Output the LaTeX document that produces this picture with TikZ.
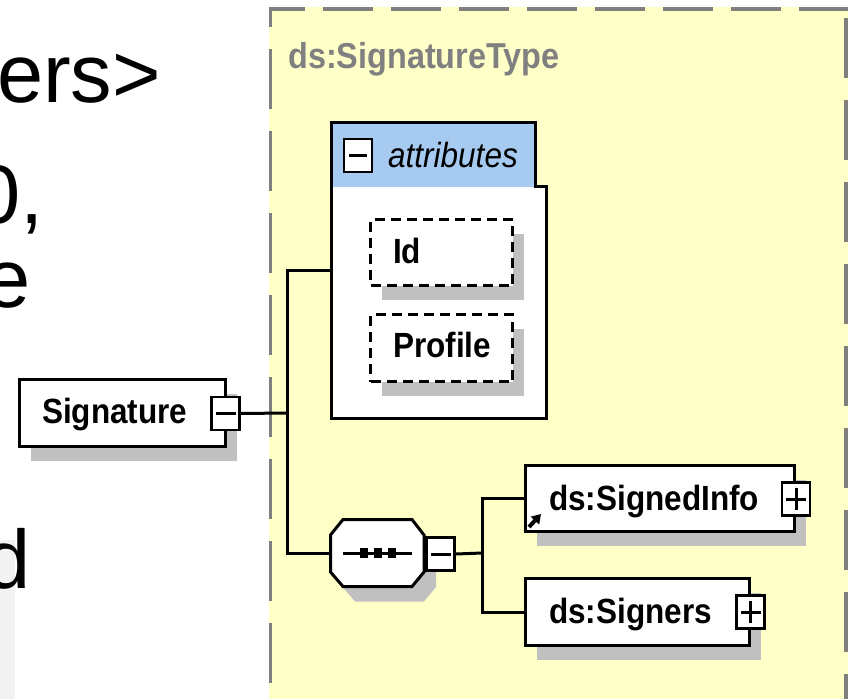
\documentclass[tikz,border=0pt]{standalone}
\usepackage{fontspec}
\setmainfont{Liberation Sans}
\newfontfamily\lblfont[FakeStretch=0.9]{Liberation Sans}
\usetikzlibrary{arrows.meta,calc,shadows}
\definecolor{yel}{HTML}{FFFFC8}
\definecolor{bordergray}{HTML}{808080}
\definecolor{shadowgray}{HTML}{C0C0C0}
\definecolor{hdrblue}{HTML}{A6CAF0}
\definecolor{lightbg}{HTML}{F2F2F2}
\newcommand\octpath{(343,519.5) -- (412,519.5) -- (424,535) -- (424,572) -- (412,586.5) -- (343,586.5) -- (330.5,572) -- (330.5,535) -- cycle}
\begin{document}
\begin{tikzpicture}[x=1pt,y=-1pt,
  conn/.style={line width=3pt},
  box/.style={draw, line width=3pt, fill=white, inner sep=0pt},
  attrbox/.style={draw, line width=3pt, dash pattern=on 10pt off 6pt, fill=white, inner sep=0pt},
  shd/.style={general shadow={fill=shadowgray, shadow xshift=11pt, shadow yshift=-14pt}},
  btn/.style={draw, line width=2.5pt, fill=white, minimum width=28pt, minimum height=33pt, inner sep=0pt},
  lbl/.style={font=\lblfont\bfseries\fontsize{35}{40}\selectfont, inner sep=0pt, anchor=base west},
  big/.style={font=\fontsize{83}{90}\selectfont, inner sep=0pt, anchor=base east},
  sign/.style={line width=3pt}]

\useasboundingbox (0,0) rectangle (848,699);
\fill[white] (0,0) rectangle (848,699);
\fill[lightbg] (0,540) rectangle (15,699);

% slide text fragments
\node[big] (t1) at (161,102) {ers>};
\node[big] (t2) at (44,223) {0,};
\node[big] (t3) at (31,307) {e};
\node[big] (t4) at (31,588) {d};

% complex type area
\fill[yel] (269,7) rectangle (848,699);
\draw[bordergray, line width=4pt, dash pattern=on 50pt off 18pt, dash phase=14pt] (269,9) -- (848,9);
\draw[bordergray, line width=3.5pt, dash pattern=on 60pt off 22pt, dash phase=40pt] (270.5,7) -- (270.5,699);
\draw[bordergray, line width=4pt, dash pattern=on 60pt off 22pt, dash phase=71pt] (846,7) -- (846,699);
\node[font=\lblfont\bfseries\fontsize{36}{40}\selectfont, text=bordergray, inner sep=0pt, anchor=base west] (title) at (288,68) {ds:SignatureType};

% connectors
\coordinate (j1) at (287,413);
\coordinate (j2) at (482,553);
\node[minimum width=215pt, minimum height=297pt, inner sep=0pt, outer sep=0pt] (attr) at (439,270.5) {};
\node[minimum width=94pt, minimum height=67pt, inner sep=0pt, outer sep=0pt] (seq) at (377.25,553) {};
\draw[conn] (attr.west) -| (j1) |- (seq.west);

% Signature element
\node[box, shd, minimum width=206pt, minimum height=67pt] (sig) at (122.5,413) {};
\node[lbl] (sigt) at (42,423) {Signature};
\node[btn] (sigbtn) at (225.5,413.5) {};
\draw[sign] ($(sigbtn.center)+(-10,0)$) -- ($(sigbtn.center)+(10,0)$);
\draw[conn] (sigbtn.east) -- (j1);

% attributes box
\filldraw[fill=white, line width=3pt] (331.5,122.5) -- (535.5,122.5) -- (535.5,186.5) -- (546.5,186.5) -- (546.5,418.5) -- (331.5,418.5) -- cycle;
\fill[hdrblue] (333,124) rectangle (534,187);
\draw[line width=3pt] (331.5,122.5) -- (535.5,122.5) -- (535.5,186.5) -- (546.5,186.5) -- (546.5,418.5) -- (331.5,418.5) -- cycle;
\node[btn] (attrbtn) at (358,155.5) {};
\draw[sign] ($(attrbtn.center)+(-9,0)$) -- ($(attrbtn.center)+(9,0)$);
\node[font=\lblfont\itshape\fontsize{35}{40}\selectfont, inner sep=0pt, anchor=base west] (attrt) at (388,167) {attributes};

\node[attrbox, shd, minimum width=142pt, minimum height=66pt] (id) at (441.5,252.5) {};
\node[lbl] (idt) at (393,263) {Id};
\node[attrbox, shd, minimum width=142pt, minimum height=67pt] (prof) at (441.5,348) {};
\node[lbl] (proft) at (393,357) {Profile};

% sequence compositor
\fill[shadowgray, shift={(12,15)}] \octpath;
\filldraw[fill=white, line width=3pt] \octpath;
\draw[line width=3pt] (343,553) -- (412,553);
\fill (359.5,548) rectangle (367.5,558);
\fill (374,548) rectangle (382,558);
\fill (388,548) rectangle (396,558);
\node[btn] (seqbtn) at (440.5,554) {};
\draw[sign] ($(seqbtn.center)+(-10,0)$) -- ($(seqbtn.center)+(10,0)$);
\draw[conn] (seqbtn.east) -- (j2);

% children
\node[box, shd, minimum width=269pt, minimum height=66pt] (si) at (660,498.5) {};
\node[lbl] (sit) at (549,510) {ds:SignedInfo};
\node[btn] (sibtn) at (796,499) {};
\draw[sign] ($(sibtn.center)+(-10,0)$) -- ($(sibtn.center)+(10,0)$);
\draw[sign] ($(sibtn.center)+(0,-11)$) -- ($(sibtn.center)+(0,11)$);
\draw[line width=4pt, -{Triangle[length=9pt,width=11pt]}] (529,527) -- (541,514);

\node[box, shd, minimum width=224pt, minimum height=67pt] (sn) at (637.5,612) {};
\node[lbl] (snt) at (549,623) {ds:Signers};
\node[btn] (snbtn) at (750.5,612) {};
\draw[sign] ($(snbtn.center)+(-10,0)$) -- ($(snbtn.center)+(10,0)$);
\draw[sign] ($(snbtn.center)+(0,-11)$) -- ($(snbtn.center)+(0,11)$);

\draw[conn] (si.west) -| (j2) |- (sn.west);
\end{tikzpicture}
\end{document}
